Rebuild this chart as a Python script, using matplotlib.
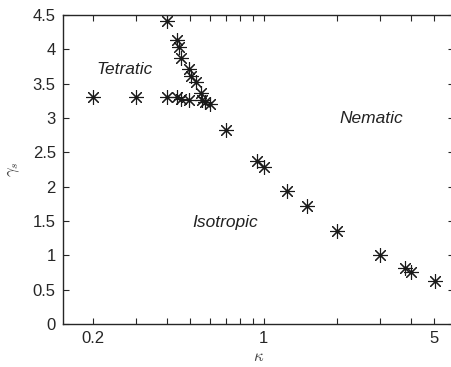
import matplotlib
matplotlib.use("Agg")
import matplotlib.pyplot as plt
from matplotlib.ticker import FixedLocator, NullFormatter

plt.rcParams['font.family'] = ['Liberation Sans', 'DejaVu Sans']
plt.rcParams['mathtext.fontset'] = 'cm'

kappa = [0.20, 0.30, 0.40, 0.40,
         0.44, 0.451, 0.458, 0.493, 0.502, 0.528, 0.553,
         0.44, 0.456, 0.493, 0.557, 0.575, 0.600,
         0.70, 0.936, 1.003, 1.25, 1.50, 2.0, 3.0, 3.79, 4.02, 5.03]
gamma_s = [3.30, 3.30, 3.30, 4.41,
           4.14, 4.03, 3.87, 3.72, 3.61, 3.53, 3.37,
           3.31, 3.28, 3.26, 3.26, 3.24, 3.20,
           2.82, 2.37, 2.29, 1.94, 1.72, 1.35, 1.00, 0.82, 0.757, 0.63]

xticks = [0.2, 1, 5]
xticklabels = ['0.2', '1', '5']
yticks = [0, 0.5, 1, 1.5, 2, 2.5, 3, 3.5, 4, 4.5]
yticklabels = ['0', '0.5', '1', '1.5', '2', '2.5', '3', '3.5', '4', '4.5']

regions = ['Tetratic', 'Nematic', 'Isotropic']
region_x = [0.269, 2.75, 0.697]
region_y = [3.646, 2.93, 1.415]

fig = plt.figure(figsize=(4.52, 3.67), dpi=100)
ax = fig.add_axes([62.7/452, 43/367, (453.6-62.7)/452, (324-15)/367])

ax.plot(kappa, gamma_s, linestyle='none', marker=(8, 2, 0), markersize=10.5,
        markeredgewidth=0.8, color='#1a1a1a')

ax.set_xscale('log')
ax.set_xlim(0.15, 6)
ax.set_ylim(0, 4.5)
ax.xaxis.set_major_locator(FixedLocator(xticks))
ax.set_xticklabels(xticklabels)
minor = [0.3, 0.4, 0.5, 0.6, 0.7, 0.8, 0.9, 2, 3, 4]
ax.xaxis.set_minor_locator(FixedLocator(minor))
ax.xaxis.set_minor_formatter(NullFormatter())
ax.set_yticks(yticks)
ax.set_yticklabels(yticklabels)

tc = '#262626'
ax.tick_params(axis='both', which='both', direction='in', top=True, right=True,
               length=4, width=0.8, color=tc, labelsize=12, labelcolor=tc, pad=5)
for s in ax.spines.values():
    s.set_color(tc)
    s.set_linewidth(1.0)

for t, x, y in zip(regions, region_x, region_y):
    ax.text(x, y, t, ha='center', va='baseline', fontsize=12.5,
            style='italic', color='#222222')

ax.set_xlabel(r'$\kappa$', fontsize=12, color='#444444', labelpad=2)
ax.set_ylabel(r'$\gamma_s$', fontsize=12, color='#444444', labelpad=8)

fig.savefig('out.png', dpi=100)
